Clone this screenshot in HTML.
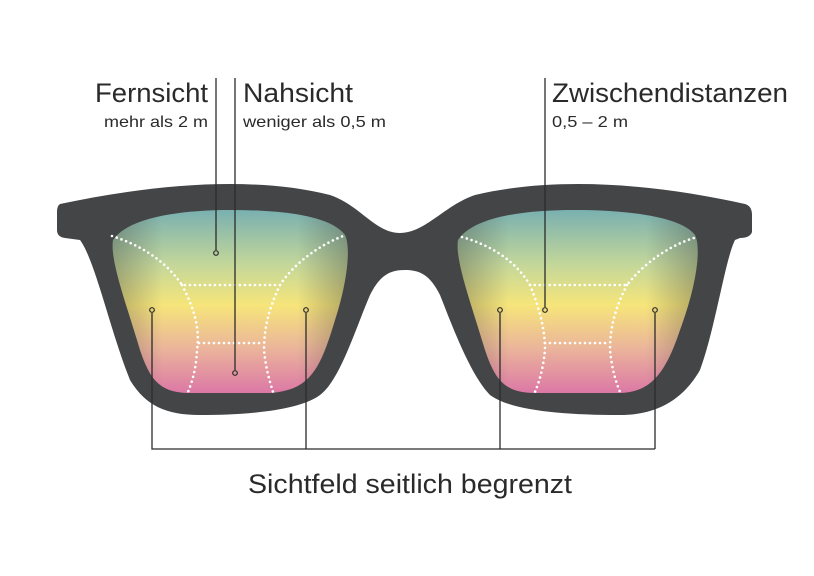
<!DOCTYPE html>
<html><head><meta charset="utf-8"><style>html,body{margin:0;padding:0;background:#fff}svg{display:block}</style></head>
<body>
<svg width="814" height="576" viewBox="0 0 814 576" xmlns="http://www.w3.org/2000/svg">
<defs>
<linearGradient id="v" x1="0" y1="210" x2="0" y2="393" gradientUnits="userSpaceOnUse">
<stop offset="0" stop-color="#79b0b0"/>
<stop offset="0.3" stop-color="#c4d79a"/>
<stop offset="0.52" stop-color="#f6e57a"/>
<stop offset="0.75" stop-color="#ebb69a"/>
<stop offset="1" stop-color="#dc78a6"/>
</linearGradient>
<linearGradient id="hL" x1="110" y1="0" x2="350" y2="0" gradientUnits="userSpaceOnUse">
<stop offset="0" stop-color="#333" stop-opacity="0.35"/>
<stop offset="0.22" stop-color="#333" stop-opacity="0"/>
<stop offset="0.78" stop-color="#333" stop-opacity="0"/>
<stop offset="1" stop-color="#333" stop-opacity="0.35"/>
</linearGradient>
<linearGradient id="hR" x1="455" y1="0" x2="700" y2="0" gradientUnits="userSpaceOnUse">
<stop offset="0" stop-color="#333" stop-opacity="0.35"/>
<stop offset="0.22" stop-color="#333" stop-opacity="0"/>
<stop offset="0.78" stop-color="#333" stop-opacity="0"/>
<stop offset="1" stop-color="#333" stop-opacity="0.35"/>
</linearGradient>
</defs>
<path fill="#444547" d="M60,204 C150,185 250,175 330,195 C360,205 375,233 400,233 C425,233 445,205 475,195 C560,175 660,185 745,204 Q752,206 752,215 L752,232 Q750,238 740,238 L735,240 C725,260 715,330 700,370 C680,405 650,415 620,415 C560,415 510,410 490,395 C470,375 450,320 440,295 C430,275 420,270 405,270 C390,270 380,275 370,295 C355,330 340,380 320,395 C300,410 250,415 200,415 C165,415 145,405 130,380 C110,330 95,260 80,240 L65,238 Q57,237 57,230 L57,212 Q57,206 60,204 Z"/>
<path fill="url(#v)" d="M113,240 C130,215 190,210 230,210 C280,210 330,215 345,235 C352,250 345,290 335,320 C320,370 310,390 270,393 L190,393 C160,393 150,380 140,350 C125,300 110,260 113,240 Z"/>
<path fill="url(#hL)" d="M113,240 C130,215 190,210 230,210 C280,210 330,215 345,235 C352,250 345,290 335,320 C320,370 310,390 270,393 L190,393 C160,393 150,380 140,350 C125,300 110,260 113,240 Z"/>
<path fill="url(#v)" d="M458,240 C475,215 530,210 575,210 C620,210 680,215 695,235 C702,250 695,290 680,330 C665,375 650,392 620,393 L535,393 C505,393 495,380 485,350 C470,300 455,260 458,240 Z"/>
<path fill="url(#hR)" d="M458,240 C475,215 530,210 575,210 C620,210 680,215 695,235 C702,250 695,290 680,330 C665,375 650,392 620,393 L535,393 C505,393 495,380 485,350 C470,300 455,260 458,240 Z"/>
<g fill="none" stroke="#fff" stroke-width="2.6" stroke-linecap="round" stroke-dasharray="0 5">
<path d="M112,236 C140,245 165,260 182,285 L280,285 C295,262 320,245 343,236"/>
<path d="M182,285 C195,310 200,330 197,350 C196,370 192,382 188,392"/>
<path d="M280,285 C268,310 264,330 264,350 C266,370 270,382 273,392"/>
<path d="M199,343 L263,343"/>
<path d="M462,237 C490,245 515,260 530,285 L627,285 C645,262 670,245 697,237"/>
<path d="M530,285 C540,310 545,330 545,350 C543,370 539,382 535,392"/>
<path d="M627,285 C614,310 610,330 610,350 C612,370 616,382 620,392"/>
<path d="M545,343 L610,343"/>
</g>
<g fill="none" stroke="#2b2b2b" stroke-width="1.3">
<line x1="216" y1="78" x2="216" y2="250"/>
<line x1="235" y1="78" x2="235" y2="370"/>
<line x1="545" y1="78" x2="545" y2="307"/>
<path d="M152,313 L152,449 L655,449 M306,313 L306,449 M500,313 L500,449 M655,313 L655,449"/>
<g stroke-width="1.2"><circle cx="216" cy="253" r="2.3"/><circle cx="235" cy="373" r="2.3"/><circle cx="545" cy="310" r="2.3"/><circle cx="152" cy="310" r="2.3"/><circle cx="306" cy="310" r="2.3"/><circle cx="500" cy="310" r="2.3"/><circle cx="655" cy="310" r="2.3"/></g>
</g>
<g font-family="Liberation Sans, sans-serif" fill="#2a2a2a">
<text x="95" y="102" font-size="27" textLength="113" lengthAdjust="spacingAndGlyphs">Fernsicht</text>
<text x="243" y="102" font-size="27" textLength="110" lengthAdjust="spacingAndGlyphs">Nahsicht</text>
<text x="552" y="102" font-size="27" textLength="236" lengthAdjust="spacingAndGlyphs">Zwischendistanzen</text>
<text x="104" y="127" font-size="16" textLength="104" lengthAdjust="spacingAndGlyphs">mehr als 2 m</text>
<text x="243" y="127" font-size="16" textLength="143" lengthAdjust="spacingAndGlyphs">weniger als 0,5 m</text>
<text x="552" y="127" font-size="16" textLength="76" lengthAdjust="spacingAndGlyphs">0,5 – 2 m</text>
<text x="248" y="493" font-size="27" textLength="324" lengthAdjust="spacingAndGlyphs">Sichtfeld seitlich begrenzt</text>
</g>
</svg>
</body></html>
